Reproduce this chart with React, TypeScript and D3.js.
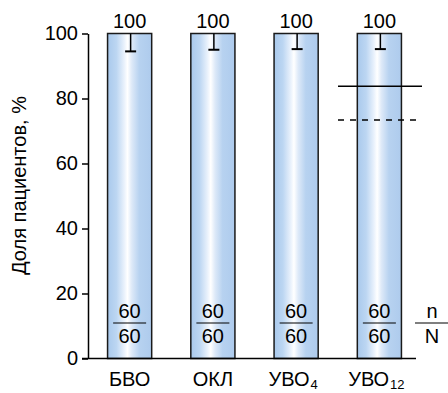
import { useEffect, useRef } from 'react';
import * as d3 from 'd3';

const categories = ['БВО', 'ОКЛ', 'УВО4', 'УВО12'];
const labelMain = ['БВО', 'ОКЛ', 'УВО', 'УВО'];
const labelSub = ['', '', '4', '12'];
const values = [100, 100, 100, 100];
const errLow = [94.5, 95, 95.2, 95.2];
const nValues = [60, 60, 60, 60];
const NValues = [60, 60, 60, 60];
const yTicks = [0, 20, 40, 60, 80, 100];
const solidRef = 83.8;
const dashedRef = 73.4;

const FONT = 'Liberation Sans, Arial, sans-serif';

export default function App() {
    const svgRef = useRef<SVGSVGElement>(null);

    useEffect(() => {
        if (!svgRef.current) return;
        const svg = d3.select(svgRef.current);
        svg.selectAll('*').remove();

        const width = 448;
        const height = 393;

        const x = d3.scaleBand<string>().domain(categories).range([88, 421]).paddingInner(0.47).paddingOuter(0.235);
        const y = d3.scaleLinear().domain([0, 100]).range([358.5, 33.5]);

        // gradient for bars
        const defs = svg.append('defs');
        const grad = defs.append('linearGradient').attr('id', 'barGrad').attr('x1', '0%').attr('x2', '100%');
        [
            [0, '#a9c9ec'],
            [0.2, '#bcd6f2'],
            [0.38, '#eaf2fc'],
            [0.45, '#ffffff'],
            [0.55, '#dde9f8'],
            [0.72, '#b7d2f0'],
            [1, '#aecbed'],
        ].forEach(([o, c]) => grad.append('stop').attr('offset', o as number).attr('stop-color', c as string));

        const g = svg.append('g');

        // bars
        categories.forEach((c, i) => {
            const bx = x(c)!;
            const bw = x.bandwidth();
            g.append('rect')
                .attr('x', bx)
                .attr('y', y(values[i]))
                .attr('width', bw)
                .attr('height', y(0) - y(values[i]))
                .attr('fill', 'url(#barGrad)')
                .attr('stroke', '#1a1a1a')
                .attr('stroke-width', 1.5);

            const cx = bx + bw / 2 + 1;
            // error bar
            g.append('line')
                .attr('x1', cx).attr('x2', cx)
                .attr('y1', y(values[i])).attr('y2', y(errLow[i]))
                .attr('stroke', '#000').attr('stroke-width', 1.5);
            g.append('line')
                .attr('x1', cx - 5.5).attr('x2', cx + 5.5)
                .attr('y1', y(errLow[i])).attr('y2', y(errLow[i]))
                .attr('stroke', '#000').attr('stroke-width', 2);

            // value label
            g.append('text')
                .attr('x', bx + bw / 2)
                .attr('y', y(values[i]) - 6)
                .attr('text-anchor', 'middle')
                .attr('font-family', FONT)
                .attr('font-size', 20)
                .text(values[i]);

            // n/N fraction
            const fx = bx + bw / 2;
            g.append('text')
                .attr('x', fx).attr('y', 317.5)
                .attr('text-anchor', 'middle')
                .attr('font-family', FONT).attr('font-size', 20)
                .text(nValues[i]);
            g.append('line')
                .attr('x1', fx - 16.5).attr('x2', fx + 16.5)
                .attr('y1', 323).attr('y2', 323)
                .attr('stroke', '#000').attr('stroke-width', 1.2);
            g.append('text')
                .attr('x', fx).attr('y', 342.5)
                .attr('text-anchor', 'middle')
                .attr('font-family', FONT).attr('font-size', 20)
                .text(NValues[i]);

            // x label
            const t = g.append('text')
                .attr('x', labelSub[i] ? fx - 3 : fx)
                .attr('y', 386)
                .attr('text-anchor', 'middle')
                .attr('font-family', FONT)
                .attr('font-size', 20);
            t.append('tspan').text(labelMain[i]);
            if (labelSub[i]) {
                t.append('tspan').attr('font-size', 13).attr('dx', 1).attr('dy', 3).text(labelSub[i]);
            }
        });

        // n/N legend on the right
        g.append('text').attr('x', 432).attr('y', 317.5).attr('text-anchor', 'middle')
            .attr('font-family', FONT).attr('font-size', 20).text('n');
        g.append('line').attr('x1', 415).attr('x2', 448).attr('y1', 323).attr('y2', 323)
            .attr('stroke', '#000').attr('stroke-width', 1.2);
        g.append('text').attr('x', 432).attr('y', 342.5).attr('text-anchor', 'middle')
            .attr('font-family', FONT).attr('font-size', 20).text('N');

        // reference lines over last bar
        g.append('line')
            .attr('x1', 338).attr('x2', 422)
            .attr('y1', y(solidRef)).attr('y2', y(solidRef))
            .attr('stroke', '#000').attr('stroke-width', 1.5);
        g.append('line')
            .attr('x1', 338).attr('x2', 422)
            .attr('y1', y(dashedRef)).attr('y2', y(dashedRef))
            .attr('stroke', '#000').attr('stroke-width', 1.5)
            .attr('stroke-dasharray', '6,6');

        // y axis
        const yAxis = g.append('g')
            .attr('transform', 'translate(88,0)')
            .call(d3.axisLeft(y).tickValues(yTicks).tickSize(6).tickSizeOuter(0).tickPadding(4));
        yAxis.select('.domain').attr('stroke-width', 1.5).attr('stroke', '#000');
        yAxis.selectAll('.tick line').attr('stroke-width', 1.5).attr('stroke', '#000');
        yAxis.selectAll('.tick text')
            .attr('font-family', FONT)
            .attr('font-size', 20)
            .attr('fill', '#000');

        // x axis line
        g.append('line')
            .attr('x1', 82).attr('x2', 416)
            .attr('y1', y(0)).attr('y2', y(0))
            .attr('stroke', '#000').attr('stroke-width', 1.5);

        // y title
        g.append('text')
            .attr('transform', `translate(26,185.5) rotate(-90)`)
            .attr('text-anchor', 'middle')
            .attr('font-family', FONT)
            .attr('font-size', 20)
            .text('Доля пациентов, %');

        svg.attr('width', width).attr('height', height);
    }, []);

    return (
        <svg
            ref={svgRef}
            width={448}
            height={393}
            style={{ position: 'absolute', left: 0, top: 0, background: '#fff' }}
        />
    );
}
